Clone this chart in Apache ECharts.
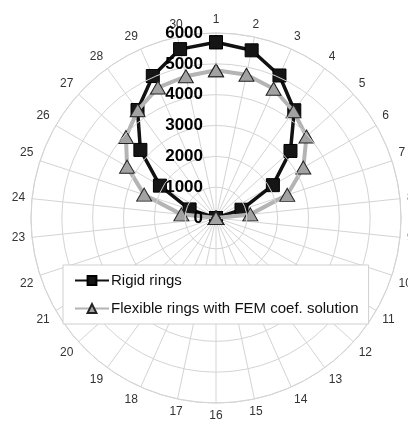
<!DOCTYPE html>
<html>
<head>
<meta charset="utf-8">
<script src="https://cdn.jsdelivr.net/npm/echarts@6/dist/echarts.min.js"></script>
<style>html,body{margin:0;padding:0;background:#fff}#c{width:408px;height:421px}</style>
</head>
<body>
<div id="c"></div>
<script>
const categories = ['1','2','3','4','5','6','7','8','9','10','11','12','13','14','15','16','17','18','19','20','21','22','23','24','25','26','27','28','29','30'];
const rigidRings = [5700,5560,5060,4320,3250,2130,870,0,0,0,0,0,0,0,0,0,0,0,0,0,0,0,0,0,900,2100,3300,4330,5040,5600];
const flexibleRings = [4790,4750,4590,4280,3950,3270,2430,1120,0,0,0,0,0,0,0,0,0,0,0,0,0,0,0,1130,2450,3330,3930,4320,4630,4700];
const radialTicks = [0,1000,2000,3000,4000,5000,6000];

function toPolar(vals){
  const d = vals.map((v,i)=>[v,i]);
  d.push([vals[0], vals.length]);
  return d;
}

const chart = echarts.init(document.getElementById('c'), null, {renderer:'canvas'});
chart.setOption({
  animation:false,
  backgroundColor:'#fff',
  polar:{center:[216,218], radius:185},
  angleAxis:{
    type:'value', min:0, max:categories.length, interval:1,
    startAngle:90, clockwise:true,
    axisLine:{show:true, lineStyle:{color:'#d4d4d4', width:1}},
    axisTick:{show:false},
    splitLine:{show:true, lineStyle:{color:'#d4d4d4', width:1}},
    axisLabel:{
      margin:7, color:'#333', fontSize:12, fontFamily:'Liberation Sans, Arial',
      formatter:function(v){ return categories[v] !== undefined ? categories[v] : ''; }
    }
  },
  radiusAxis:{
    type:'value', min:radialTicks[0], max:radialTicks[radialTicks.length-1], interval:1000,
    axisLine:{show:false}, axisTick:{show:false},
    splitLine:{show:true, lineStyle:{color:'#d4d4d4', width:1}},
    axisLabel:{show:true, color:'#000', fontWeight:'bold', fontSize:17, fontFamily:'Liberation Sans, Arial', margin:13,
      formatter:function(v){ return String(v); }},
    z:10
  },
  legend:{
    show:true, orient:'vertical', left:63, top:265, width:303, z:20,
    padding:[8,10,8,11], itemGap:13,
    backgroundColor:'#fff', borderColor:'#cfcfcf', borderWidth:1,
    itemWidth:34, itemHeight:11,
    textStyle:{fontSize:15, color:'#111', fontFamily:'Liberation Sans, Arial', padding:[0,0,0,-3]},
    data:['Rigid rings','Flexible rings with FEM coef. solution']
  },
  series:[
    {
      name:'Rigid rings', type:'line', coordinateSystem:'polar',
      data:toPolar(rigidRings),
      symbol:'rect', symbolSize:13,
      lineStyle:{color:'#111', width:3.5},
      itemStyle:{color:'#151515', borderColor:'#000', borderWidth:1},
      z:3
    },
    {
      name:'Flexible rings with FEM coef. solution', type:'line', coordinateSystem:'polar',
      data:toPolar(flexibleRings),
      symbol:'triangle', symbolSize:[15,13],
      lineStyle:{color:'#b4b4b4', width:4},
      itemStyle:{color:'#a2a2a2', borderColor:'#222', borderWidth:1},
      z:4
    }
  ]
});
</script>
</body>
</html>
